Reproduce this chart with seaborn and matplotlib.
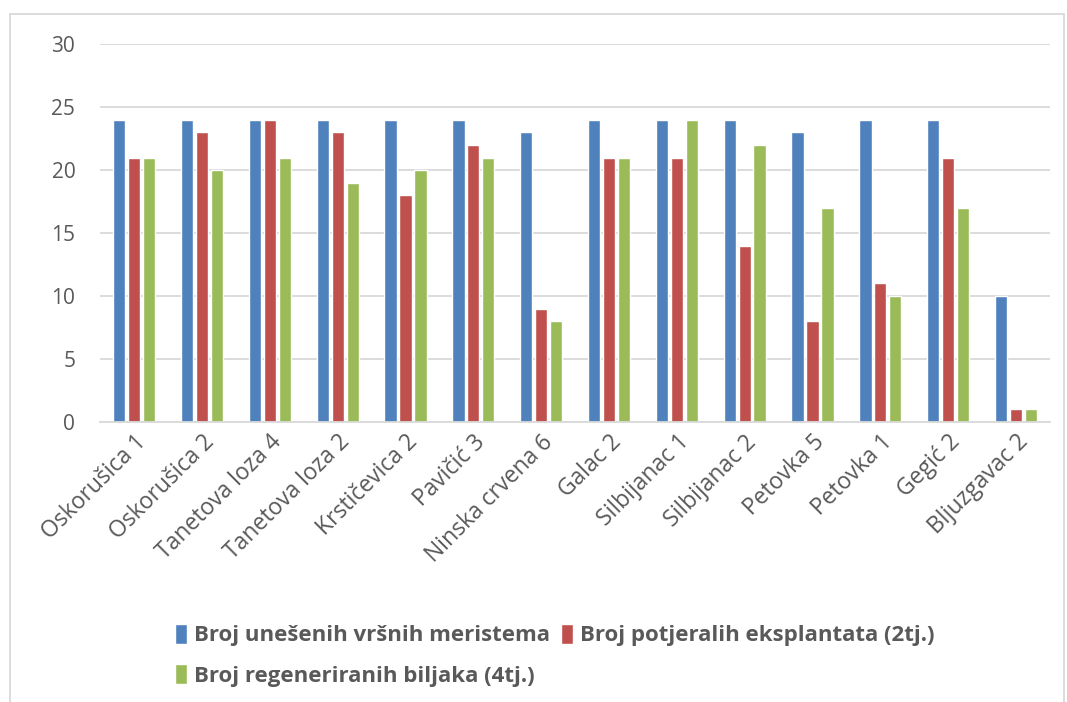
import pandas as pd
import seaborn as sns
from matplotlib import pyplot as plt
from matplotlib.patches import Rectangle

categories = ["Oskorušica 1", "Oskorušica 2", "Tanetova loza 4", "Tanetova loza 2",
              "Krstičevica 2", "Pavičić 3", "Ninska crvena 6", "Galac 2",
              "Silbijanac 1", "Silbijanac 2", "Petovka 5", "Petovka 1",
              "Gegić 2", "Bljuzgavac 2"]
uneseni = [24, 24, 24, 24, 24, 24, 23, 24, 24, 24, 23, 24, 24, 10]
potjerali = [21, 23, 24, 23, 18, 22, 9, 21, 21, 14, 8, 11, 21, 1]
regenerirani = [21, 20, 21, 19, 20, 21, 8, 21, 24, 22, 17, 10, 17, 1]
series = ["Broj unešenih vršnih meristema",
          "Broj potjeralih eksplantata (2tj.)",
          "Broj regeneriranih biljaka (4tj.)"]
colors = ["#4F81BD", "#C0504D", "#9BBB59"]

df = pd.DataFrame({"kultivar": categories * 3,
                   "vrijednost": uneseni + potjerali + regenerirani,
                   "serija": [series[0]] * 14 + [series[1]] * 14 + [series[2]] * 14})

sns.set_style("white")
plt.rcParams["font.family"] = ["Open Sans", "DejaVu Sans"]

fig = plt.figure(figsize=(10.67, 7.02), dpi=100)
ax = fig.add_axes([0.094, 0.399, 0.89, 0.538])

sns.barplot(data=df, x="kultivar", y="vrijednost", hue="serija", palette=colors,
            width=0.66, gap=0.18, ax=ax, legend=True, saturation=1)

ax.set_ylim(0, 30)
ax.set_xlim(-0.5, len(categories) - 0.5)
ax.set_yticks([0, 5, 10, 15, 20, 25, 30])
ax.yaxis.grid(True, color="#D9D9D9", linewidth=1.3)
ax.set_axisbelow(True)
for s in ["top", "right", "left"]:
    ax.spines[s].set_visible(False)
ax.spines["bottom"].set_color("#D9D9D9")
ax.spines["bottom"].set_linewidth(1.3)
ax.set_xlabel("")
ax.set_ylabel("")
ax.tick_params(axis="y", labelsize=15, labelcolor="#595959", length=0, pad=18)
ax.tick_params(axis="x", labelsize=16.5, labelcolor="#595959", length=0, pad=6)
plt.setp(ax.get_xticklabels(), rotation=45, ha="right", rotation_mode="anchor")

handles, labels = ax.get_legend_handles_labels()
ax.get_legend().remove()
order = [0, 2, 1]
fig.legend([handles[i] for i in order], [labels[i] for i in order],
           ncol=2, loc="upper left", bbox_to_anchor=(0.145, 0.14),
           frameon=False, handlelength=0.55, handleheight=1.0, handletextpad=0.3,
           columnspacing=0.5, labelspacing=0.8,
           prop={"size": 16, "weight": "bold"}, labelcolor="#595959")

fig.patches.append(Rectangle((0.0095, -0.01), 0.988, 0.99, transform=fig.transFigure,
                             fill=False, edgecolor="#D9D9D9", linewidth=1.3))

fig.savefig("out.png", dpi=100)
